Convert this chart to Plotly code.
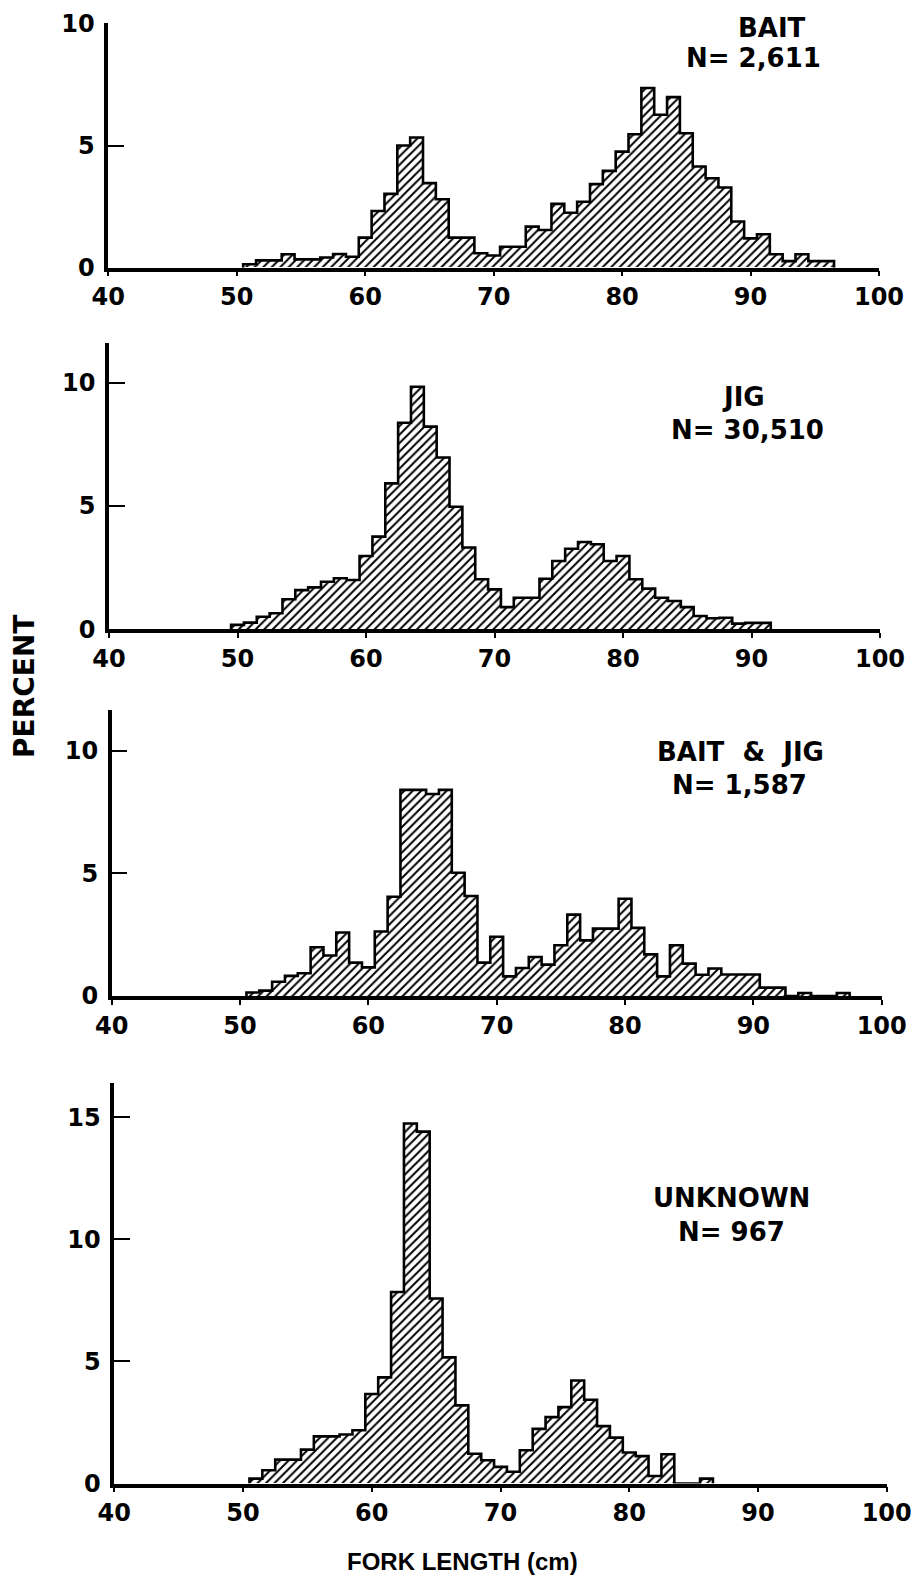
import plotly.graph_objects as go

# ---- data (percent by 1-cm fork-length bin, bins centred on integer cm) ----
bait_start = 51
bait_pct = [0.14, 0.3, 0.3, 0.55, 0.34, 0.34, 0.42, 0.56, 0.45, 1.23,
            2.32, 3.02, 5.0, 5.33, 3.46, 2.8, 1.23, 1.23, 0.59, 0.5,
            0.86, 0.86, 1.68, 1.54, 2.61, 2.25, 2.7, 3.42, 3.96, 4.75,
            5.46, 7.35, 6.26, 6.98, 5.5, 4.14, 3.66, 3.28, 1.89, 1.2,
            1.37, 0.55, 0.27, 0.55, 0.27, 0.27]

jig_start = 50
jig_pct = [0.18, 0.27, 0.51, 0.65, 1.22, 1.59, 1.7, 1.93, 2.07, 2.0,
           2.97, 3.76, 5.92, 8.38, 9.84, 8.22, 6.97, 4.97, 3.32, 2.03,
           1.62, 0.9, 1.28, 1.28, 2.05, 2.77, 3.27, 3.54, 3.45, 2.77,
           2.97, 2.03, 1.65, 1.28, 1.15, 0.9, 0.54, 0.45, 0.47, 0.23,
           0.26, 0.26]

bj_start = 51
bj_pct = [0.14, 0.22, 0.58, 0.82, 0.93, 1.99, 1.65, 2.59, 1.36, 1.17,
          2.63, 4.05, 8.41, 8.41, 8.24, 8.41, 5.03, 4.08, 1.36, 2.42,
          0.8, 1.14, 1.59, 1.28, 2.07, 3.32, 2.27, 2.75, 2.75, 3.97,
          2.78, 1.7, 0.8, 2.07, 1.32, 0.87, 1.12, 0.88, 0.88, 0.88,
          0.34, 0.34, 0.0, 0.12, 0.0, 0.0, 0.12]

unk_start = 51
unk_pct = [0.2, 0.54, 0.98, 0.98, 1.39, 1.93, 1.93, 2.01, 2.18, 3.67,
           4.35, 7.85, 14.75, 14.42, 7.58, 5.17, 3.2, 1.22, 0.95, 0.68,
           0.48, 1.36, 2.24, 2.72, 3.13, 4.22, 3.43, 2.35, 1.88, 1.27,
           1.12, 0.31, 1.2, 0.0, 0.0, 0.2]

panel_labels = ["BAIT", "JIG", "BAIT  &  JIG", "UNKNOWN"]
panel_n = ["N= 2,611", "N= 30,510", "N= 1,587", "N= 967"]
x_ticks = [40, 50, 60, 70, 80, 90, 100]
y_ticks = [[0, 5, 10], [0, 5, 10], [0, 5, 10], [0, 5, 10, 15]]

# ---- layout geometry (page pixels; page body has an 8px default margin) ----
PAGE_W, PAGE_H = 919, 1584
OFF = 8
W, H = PAGE_W - OFF, PAGE_H - OFF


def px(x):
    return (x - OFF) / W


def py(y):
    return 1 - (y - OFF) / H


panels = [
    # (x0px, x1px, y_zero_px, y_top_px, ytop_value)
    (108.3, 879.0, 267.7, 23.3, 10.0),
    (109.0, 880.0, 629.3, 343.3, 11.6),
    (111.7, 881.7, 996.0, 710.0, 11.67),
    (114.3, 886.7, 1483.5, 1083.3, 16.4),
]
# (title x, title y, N x, N y) in pixels
label_pos = [(772, 28, 753, 58), (743, 397, 747, 430),
             (740, 752, 739, 785), (731, 1198, 731, 1232)]

series = [(bait_start, bait_pct), (jig_start, jig_pct),
          (bj_start, bj_pct), (unk_start, unk_pct)]

TICKFONT = dict(family="DejaVu Sans", size=24, color="black", weight="bold")
LABFONT = dict(family="DejaVu Sans", size=26, color="black", weight="bold")

fig = go.Figure()
layout = dict(width=W, height=H, margin=dict(l=0, r=0, t=0, b=0, autoexpand=False),
              paper_bgcolor="white", plot_bgcolor="white", showlegend=False,
              bargap=0, template="none")
annotations = []

for i, ((start, vals), (x0, x1, yz, yt, ytop)) in enumerate(zip(series, panels)):
    k = "" if i == 0 else str(i + 1)
    centers = [start + j for j in range(len(vals))]
    fig.add_trace(go.Bar(
        x=centers, y=vals, width=1.0,
        marker=dict(color="white",
                    pattern=dict(shape="/", fgcolor="black", bgcolor="white",
                                 size=6, solidity=0.33),
                    line=dict(width=0)),
        xaxis="x" + k, yaxis="y" + k, hoverinfo="skip"))
    # step outline built from the same bins
    sx = [centers[0] - 0.5] + [c - 0.5 for c in centers] + [centers[-1] + 0.5]
    sy = [0] + list(vals) + [0]
    fig.add_trace(go.Scatter(
        x=sx, y=sy, mode="lines", line=dict(shape="hv", color="black", width=2.6),
        xaxis="x" + k, yaxis="y" + k, hoverinfo="skip"))

    layout["xaxis" + k] = dict(
        domain=[px(x0), px(x1)], anchor="y" + k, range=[40, 100],
        tickvals=x_ticks, ticks="outside", ticklen=5, tickwidth=1.5,
        tickcolor="black", showline=True, linewidth=3.5, linecolor="black",
        showgrid=False, zeroline=False, tickfont=TICKFONT, automargin=False)
    layout["yaxis" + k] = dict(
        domain=[py(yz), py(yt)], anchor="x" + k, range=[0, ytop],
        tickvals=y_ticks[i], ticks="inside", ticklen=16, tickwidth=1.5,
        tickcolor="black", showline=True, linewidth=3.5, linecolor="black",
        showgrid=False, zeroline=False, tickfont=TICKFONT, automargin=False,
        ticklabelstandoff=5)

    tx, ty, nx, ny = label_pos[i]
    annotations.append(dict(text=panel_labels[i], x=px(tx), y=py(ty),
                            xref="paper", yref="paper", showarrow=False,
                            xanchor="center", yanchor="middle", font=LABFONT))
    annotations.append(dict(text=panel_n[i], x=px(nx), y=py(ny),
                            xref="paper", yref="paper", showarrow=False,
                            xanchor="center", yanchor="middle", font=LABFONT))

annotations.append(dict(text="PERCENT", x=px(24), y=py(687), xref="paper",
                        yref="paper", showarrow=False, textangle=-90,
                        xanchor="center", yanchor="middle",
                        font=dict(family="DejaVu Sans", size=28, color="black",
                                  weight="bold")))
annotations.append(dict(text="FORK LENGTH (cm)", x=px(462), y=py(1561),
                        xref="paper", yref="paper", showarrow=False,
                        xanchor="center", yanchor="middle",
                        font=dict(family="Liberation Sans", size=24, color="black",
                                  weight="bold")))
layout["annotations"] = annotations
fig.update_layout(**layout)
fig.write_html("out.html")
